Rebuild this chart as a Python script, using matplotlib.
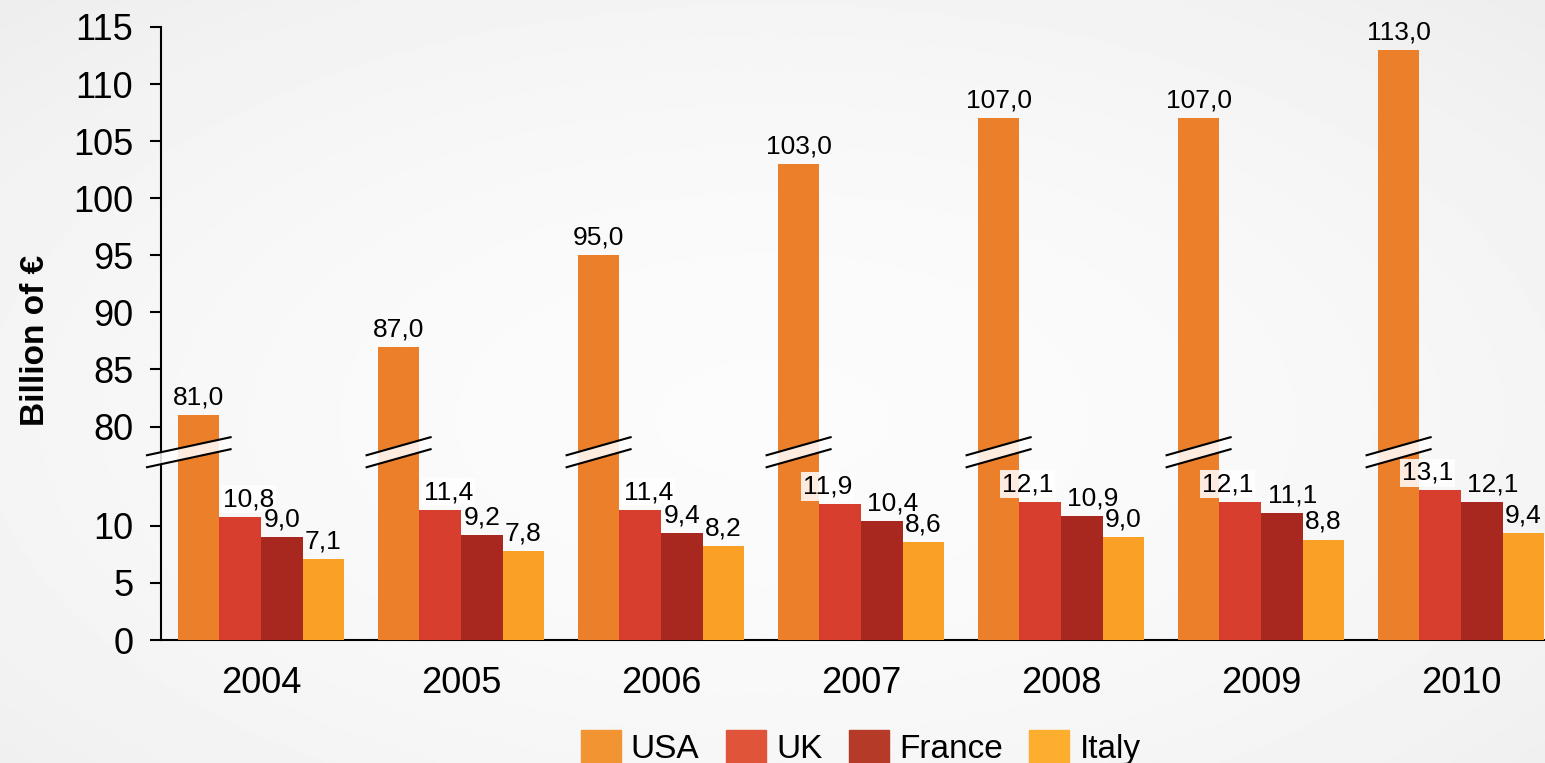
import numpy as np
import matplotlib
matplotlib.use("Agg")
import matplotlib.pyplot as plt
from matplotlib.patches import Polygon, Patch
from matplotlib.transforms import blended_transform_factory

plt.rcParams['font.family'] = ['Liberation Sans', 'DejaVu Sans']

# === DATA ===
years = ['2004', '2005', '2006', '2007', '2008', '2009', '2010']
countries = ['USA', 'UK', 'France', 'Italy']
usa = [81.0, 87.0, 95.0, 103.0, 107.0, 107.0, 113.0]
uk = [10.8, 11.4, 11.4, 11.9, 12.1, 12.1, 13.1]
france = [9.0, 9.2, 9.4, 10.4, 10.9, 11.1, 12.1]
italy = [7.1, 7.8, 8.2, 8.6, 9.0, 8.8, 9.4]
colors = ['#EC7F2A', '#D73E2E', '#A8281F', '#FBA027']
legend_colors = ['#F39432', '#E0553A', '#B63A28', '#FDAE2E']

lower_ticks = [0, 5, 10]
upper_ticks = [80, 85, 90, 95, 100, 105, 110, 115]

# === BROKEN AXIS SCALE ===
B = 16.45     # where the lower part stops
OFF = 61.3    # gap removed from the axis

def fwd(y):
    y = np.asarray(y, dtype=float)
    return np.where(y <= B, y, np.where(y >= B + OFF, y - OFF, B))

def inv(m):
    m = np.asarray(m, dtype=float)
    return np.where(m <= B, m, m + OFF)

# === FIGURE ===
fig = plt.figure(figsize=(15.45, 7.63), dpi=100)

# soft grey background
bg = fig.add_axes([0, 0, 1, 1], zorder=-10)
yy, xx = np.mgrid[0:1:300j, 0:1:600j]
r = np.sqrt(((xx - 0.5) / 0.75) ** 2 + ((yy - 0.55) / 0.8) ** 2)
shade = np.clip(0.985 - 0.06 * r ** 2, 0, 1)
bg.imshow(shade, cmap='gray', vmin=0, vmax=1, aspect='auto', extent=[0, 1, 0, 1])
bg.axis('off')

ax = fig.add_axes([161 / 1545, 1 - 640 / 763, 1 - 161 / 1545, (640 - 27) / 763])
ax.set_facecolor('none')
ax.set_yscale('function', functions=(fwd, inv))

x = np.arange(len(years))
w = 0.208
series = [usa, uk, france, italy]
for k, (vals, name, col) in enumerate(zip(series, countries, colors)):
    pos = x + (k - 1.5) * w
    ax.bar(pos, vals, w, color=col, label=name, zorder=3)
    for j, (xi, v) in enumerate(zip(pos, vals)):
        box = None
        dx = 0
        crowded = france[j] >= 10  # UK and France labels would touch
        if k == 1:  # UK labels sit over the USA bar
            box = dict(boxstyle='square,pad=0.08', fc='white', ec='none', alpha=0.85)
            dx = -9 if crowded else 6
        if k == 2 and crowded:
            dx = 8
        ax.annotate(f"{v:.1f}".replace('.', ','), (xi, v), xytext=(dx, 4),
                    textcoords='offset points', ha='center', va='bottom',
                    fontsize=19, zorder=7, bbox=box)

ax.set_xlim(-0.5, 6.42)
ax.set_ylim(0, 115)
ax.set_yticks(lower_ticks + upper_ticks)
ax.set_yticklabels([str(t) for t in lower_ticks + upper_ticks])
ax.yaxis.set_minor_locator(matplotlib.ticker.NullLocator())
ax.set_xticks(x)
ax.set_xticklabels(years)
ax.tick_params(axis='y', length=8, width=1.5, labelsize=26, pad=12)
ax.tick_params(axis='x', length=0, labelsize=26, pad=19)
for s in ['top', 'right']:
    ax.spines[s].set_visible(False)
for s in ['left', 'bottom']:
    ax.spines[s].set_linewidth(1.5)

ax.set_ylabel('Billion of €', fontsize=24, fontweight='bold', va='center')
ax.yaxis.set_label_coords(-0.091, 0.489)

# === BREAK MARKS ===
trans = blended_transform_factory(ax.transData, ax.transAxes)
c = B / (115 - OFF)
gap = 12 / 613
rise = 9 / 613
for i in range(len(years)):
    xc = i - 1.5 * w
    x0 = xc - 0.16 if i > 0 else -0.57
    x1 = xc + 0.16
    top0, top1 = c + gap / 2 - rise, c + gap / 2 + rise
    bot0, bot1 = top0 - gap, top1 - gap
    ax.add_patch(Polygon([(x0, top0), (x1, top1), (x1, bot1), (x0, bot0)],
                         closed=True, transform=trans, fc='white', ec='none',
                         alpha=0.85, zorder=5, clip_on=False))
    ax.plot([x0, x1], [top0, top1], color='black', lw=1.5, transform=trans,
            zorder=6, clip_on=False)
    ax.plot([x0, x1], [bot0, bot1], color='black', lw=1.5, transform=trans,
            zorder=6, clip_on=False)

# === LEGEND ===
handles = [Patch(color=lc, label=n) for lc, n in zip(legend_colors, countries)]
fig.legend(handles=handles, loc='center', bbox_to_anchor=(0.557, 0.02), ncol=4,
           frameon=False, fontsize=24, handlelength=1.2, handleheight=1.2,
           handletextpad=0.3, columnspacing=0.8)

fig.savefig('out.png', dpi=100)
